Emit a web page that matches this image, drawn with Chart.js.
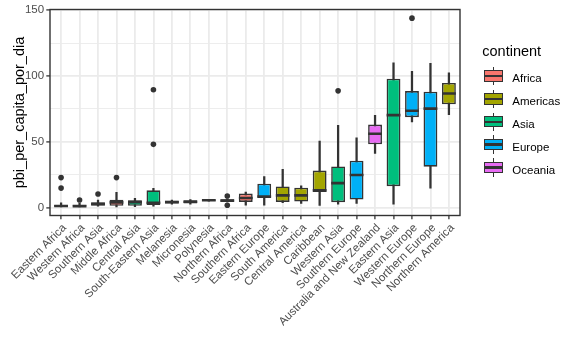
<!DOCTYPE html>
<html><head><meta charset="utf-8">
<script src="https://cdn.jsdelivr.net/npm/chart.js@4"></script>
<style>
html,body{margin:0;padding:0;background:#fff;}
#wrap{position:relative;width:576px;height:355px;font-family:"Liberation Sans",Arial,sans-serif;overflow:hidden;}
#c{position:absolute;left:0;top:0;}
.abs{position:absolute;}
.lbl{position:absolute;font-size:11.5px;line-height:14px;color:#000;white-space:nowrap;}
</style></head><body>
<div id="wrap"><canvas id="c" width="576" height="355"></canvas><div id="legend"></div></div>
<script>
// ---- data ----
const regions = ['Eastern Africa','Western Africa','Southern Asia','Middle Africa','Central Asia','South-Eastern Asia','Melanesia','Micronesia','Polynesia','Northern Africa','Southern Africa','Eastern Europe','South America','Central America','Caribbean','Western Asia','Southern Europe','Australia and New Zealand','Eastern Asia','Western Europe','Northern Europe','Northern America'];
const regionContinent = ['Africa','Africa','Asia','Africa','Asia','Asia','Oceania','Oceania','Oceania','Africa','Africa','Europe','Americas','Americas','Americas','Asia','Europe','Oceania','Asia','Europe','Europe','Americas'];
const whiskerLow  = [0.3, 0.3, 1.0, 0.3, 0.5, 1.0, 2.5, 2.5, 4.8, 4.2, 1.8, 1.7, 3.7, 3.0, 1.5, 2.5, 3.0, 41.0, 2.5, 65.0, 14.7, 70.5];
const q1          = [0.6, 0.6, 1.5, 1.2, 1.2, 1.8, 3.0, 3.0, 5.1, 4.4, 4.2, 7.2, 4.2, 4.5, 11.7, 4.0, 6.0, 48.0, 16.2, 68.7, 31.0, 78.5];
const median      = [1.1, 1.0, 2.5, 3.8, 4.0, 3.5, 4.0, 4.3, 5.5, 5.2, 7.2, 8.3, 9.2, 9.2, 13.0, 18.5, 24.7, 56.0, 70.2, 73.5, 75.2, 86.7];
const q3          = [1.9, 1.8, 4.0, 5.8, 5.5, 13.0, 5.0, 5.5, 5.9, 6.2, 10.5, 18.0, 16.0, 15.0, 28.0, 31.2, 35.5, 63.0, 98.0, 88.5, 88.0, 94.7];
const whiskerHigh = [3.5, 3.2, 5.5, 11.5, 7.0, 14.5, 5.5, 6.0, 6.2, 6.5, 11.7, 23.5, 29.0, 16.5, 50.5, 62.5, 53.0, 70.0, 110.0, 103.5, 109.7, 102.5];
const outlierRegion = ['Eastern Africa','Eastern Africa','Western Africa','Southern Asia','Middle Africa','South-Eastern Asia','South-Eastern Asia','Northern Africa','Northern Africa','Western Asia','Western Europe'];
const outlierValue  = [14.7, 22.7, 5.7, 10.2, 22.7, 48.0, 89.5, 1.7, 8.7, 88.7, 144.0];
const continents = ['Africa','Americas','Asia','Europe','Oceania'];
const continentColors = ['#F8766D','#A3A500','#00BF7D','#00B0F6','#E76BF3'];
const yMajorTicks = [0, 50, 100, 150];
const yAllTicks = [0, 25, 50, 75, 100, 125, 150];

// ---- chart ----
const FAMILY = '"Liberation Sans", Arial, sans-serif';
const idx = regions.map((_, i) => i);
const colorOf = c => continentColors[continents.indexOf(c)];

const panelBorder = {
  id: 'panelBorder',
  afterDatasetsDraw(chart) {
    const {ctx, chartArea: a} = chart;
    ctx.save();
    ctx.strokeStyle = '#333333';
    ctx.lineWidth = 1.4;
    ctx.strokeRect(a.left, a.top, a.right - a.left, a.bottom - a.top);
    ctx.restore();
  }
};

new Chart(document.getElementById('c'), {
  type: 'bar',
  data: {
    datasets: [
      { label: 'whisker', data: idx.map(i => ({x: i, y: [whiskerLow[i], whiskerHigh[i]]})),
        backgroundColor: '#333333', barThickness: 1.6, grouped: false, order: 4 },
      { label: 'box', data: idx.map(i => ({x: i, y: [q1[i], q3[i]]})),
        backgroundColor: regionContinent.map(colorOf), borderColor: '#333333', borderWidth: 1.6,
        borderSkipped: false, barPercentage: 0.75, categoryPercentage: 1, grouped: false, order: 3 },
      { type: 'scatter', label: 'median', data: idx.map(i => ({x: i, y: median[i]})),
        pointStyle: 'line', pointRadius: 6.9, borderColor: '#333333', borderWidth: 2.6, order: 2 },
      { type: 'scatter', label: 'outlier',
        data: outlierRegion.map((r, k) => ({x: regions.indexOf(r), y: outlierValue[k]})),
        pointRadius: 2.8, backgroundColor: '#333333', borderWidth: 0, order: 1 }
    ]
  },
  options: {
    responsive: false, animation: false, devicePixelRatio: 1, events: [],
    layout: { padding: { top: 6.5, right: 116, left: 0, bottom: 0 } },
    plugins: { legend: { display: false }, tooltip: { enabled: false } },
    scales: {
      x: {
        type: 'linear', min: -0.6, max: 21.6, offset: false,
        afterBuildTicks: s => { s.ticks = idx.map(i => ({value: i})); },
        afterFit: s => { s.height = 139.5; },
        ticks: { autoSkip: false, maxRotation: 45, minRotation: 45, color: '#4D4D4D',
                 font: { family: FAMILY, size: 11.5 }, padding: 2, labelOffset: 3.5,
                 callback: v => regions[v] },
        grid: { color: '#EBEBEB', lineWidth: 1.8, tickColor: '#333333', tickLength: 3.7, tickWidth: 1.3, offset: false },
        border: { display: false }
      },
      y: {
        min: -6.15, max: 150.6,
        afterBuildTicks: s => { s.ticks = yAllTicks.map(v => ({value: v})); },
        afterFit: s => { s.width = 50; },
        ticks: { color: '#4D4D4D', font: { family: FAMILY, size: 11.5 }, padding: 2.2,
                 callback: v => yMajorTicks.includes(v) ? String(v) : '' },
        grid: {
          color: '#EBEBEB',
          lineWidth: c => yMajorTicks.includes(c.tick.value) ? 1.8 : 0.9,
          tickColor: c => yMajorTicks.includes(c.tick.value) ? '#333333' : 'rgba(0,0,0,0)',
          tickLength: 3.7, tickWidth: 1.3
        },
        border: { display: false },
        title: { display: true, text: 'pbi_per_capita_por_dia', color: '#000000',
                 font: { family: FAMILY, size: 14.5 }, padding: { top: 11.3, bottom: 0 } }
      }
    }
  },
  plugins: [panelBorder]
});

// ---- legend ----
const lg = document.getElementById('legend');
const title = document.createElement('div');
title.className = 'abs';
title.style.cssText = 'left:482.3px;top:42.7px;font-size:14.5px;line-height:17px;color:#000;';
title.textContent = 'continent';
lg.appendChild(title);
continents.forEach((name, k) => {
  const c = 76 + 22.9 * k;
  const add = css => { const d = document.createElement('div'); d.className = 'abs'; d.style.cssText = css; lg.appendChild(d); return d; };
  add(`left:492.7px;top:${c - 9.3}px;width:1.6px;height:18.4px;background:#333;`);
  add(`left:484.3px;top:${c - 6}px;width:18.4px;height:11.7px;box-sizing:border-box;border:1.6px solid #333;background:${continentColors[k]};`);
  add(`left:484.3px;top:${c - 1.3}px;width:18.4px;height:2.6px;background:#333;`);
  const t = document.createElement('div');
  t.className = 'lbl';
  t.style.left = '512.3px';
  t.style.top = (c - 5.1) + 'px';
  t.textContent = name;
  lg.appendChild(t);
});
</script>
</body></html>
